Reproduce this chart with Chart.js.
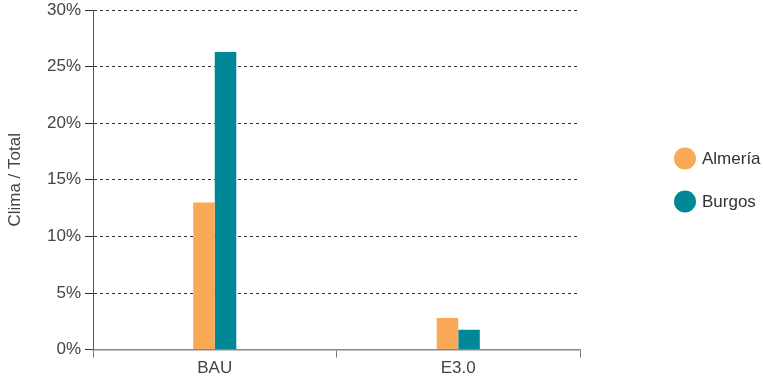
<!DOCTYPE html>
<html>
<head>
<meta charset="utf-8">
<script src="https://cdn.jsdelivr.net/npm/chart.js@4.4.0/dist/chart.umd.min.js"></script>
<style>
  html, body { margin: 0; padding: 0; background: #fff; }
  #wrap { width: 763px; height: 380px; position: relative; }
</style>
</head>
<body>
<div id="wrap"><canvas id="chart"></canvas></div>
<script>
// data
const categories = ["BAU", "E3.0"];
const almeria    = [13.0, 2.8];
const burgos     = [26.3, 1.75];
const seriesNames  = ["Almería", "Burgos"];
const seriesColors = ["#F8AA56", "#008896"];

const FONT = "'Liberation Sans', Arial, sans-serif";

// legend drawn on the right, outside the plot area
const sideLegend = {
    id: "sideLegend",
    afterDraw(chart) {
        const ctx = chart.ctx;
        const mid = 180;
        const gap = 43;
        ctx.save();
        ctx.font = "17px " + FONT;
        ctx.textBaseline = "middle";
        chart.data.datasets.forEach((ds, i) => {
            const y = mid - gap / 2 + i * gap;
            ctx.beginPath();
            ctx.arc(685, y, 11, 0, Math.PI * 2);
            ctx.fillStyle = ds.backgroundColor;
            ctx.fill();
            ctx.fillStyle = "#333";
            ctx.fillText(ds.label, 702, y + 1);
        });
        ctx.restore();
    }
};

new Chart(document.getElementById("chart"), {
    type: "bar",
    data: {
        labels: categories,
        datasets: [
            { label: seriesNames[0], data: almeria, backgroundColor: seriesColors[0] },
            { label: seriesNames[1], data: burgos,  backgroundColor: seriesColors[1] },
        ],
    },
    options: {
        responsive: true,
        maintainAspectRatio: false,
        animation: false,
        datasets: { bar: { barPercentage: 1, categoryPercentage: 0.177 } },
        layout: { padding: { top: 10, right: 183, bottom: 0, left: 0 } },
        plugins: { legend: { display: false }, tooltip: { enabled: false } },
        scales: {
            x: {
                grid: { drawOnChartArea: false, tickLength: 8, color: "#777", lineWidth: 1 },
                border: { color: "#888", width: 1.5 },
                ticks: { color: "#444", font: { family: FONT, size: 17 }, padding: 1 },
            },
            y: {
                min: 0,
                max: 30,
                afterFit(scale) {
                    scale.width = 93;
                    scale.paddingTop = 0;
                },
                ticks: {
                    stepSize: 5,
                    color: "#444",
                    font: { family: FONT, size: 17 },
                    padding: 4,
                    callback: v => v + "%",
                },
                grid: {
                    color: "#333",
                    lineWidth: 1,
                    tickBorderDash: [],
                    tickLength: 8,
                },
                border: { color: "#555", width: 1, dash: [3, 3] },
                title: {
                    display: true,
                    text: "Clima / Total",
                    color: "#444",
                    font: { family: FONT, size: 17 },
                    padding: { top: 5, bottom: 0 },
                },
            },
        },
    },
    plugins: [sideLegend],
});
</script>
</body>
</html>
